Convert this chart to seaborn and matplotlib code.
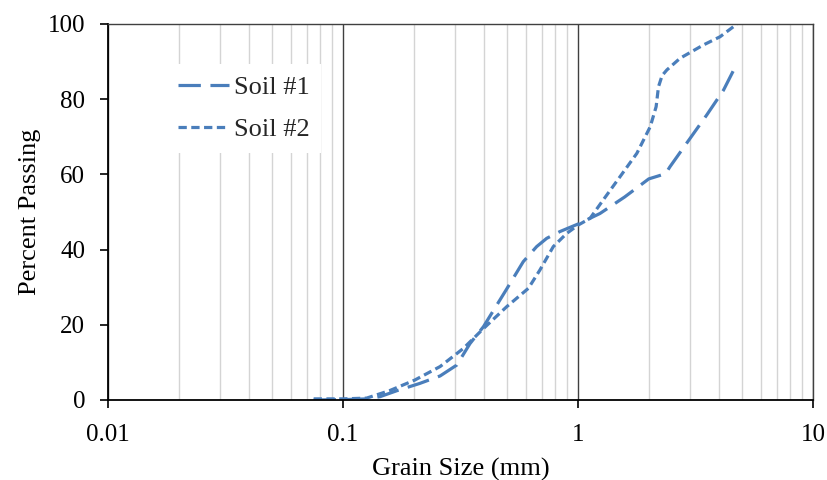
import matplotlib
matplotlib.use("Agg")
import matplotlib.pyplot as plt
import matplotlib.ticker as mticker
import numpy as np
import pandas as pd
import seaborn as sns

# ---- data ----
soil1_size = [0.075, 0.1, 0.126, 0.144, 0.17, 0.212, 0.259, 0.305, 0.347, 0.396,
              0.497, 0.585, 0.667, 0.736, 0.838, 1.0, 1.24, 1.58, 2.0, 2.2, 2.36,
              2.46, 2.9, 3.53, 4.16, 4.75]
soil1_pass = [0.0, 0.1, 0.3, 0.9, 2.5, 4.4, 6.4, 9.3, 15.0, 19.5,
              29.5, 36.8, 40.8, 43.0, 44.8, 46.8, 49.6, 54.0, 58.8, 59.6, 60.2,
              62.0, 68.3, 75.8, 82.4, 89.5]
soil2_size = [0.075, 0.1, 0.126, 0.158, 0.202, 0.259, 0.325, 0.396, 0.497, 0.615,
              0.689, 0.785, 0.895, 1.0, 1.125, 1.28, 1.51, 1.78, 2.03, 2.15, 2.2,
              2.28, 2.39, 2.72, 3.41, 4.02, 4.75]
soil2_pass = [0.3, 0.3, 0.5, 2.5, 5.3, 8.9, 13.7, 19.0, 24.8, 29.7,
              34.6, 40.8, 44.3, 46.5, 48.3, 53.2, 59.4, 65.6, 72.7, 78.0, 83.3,
              86.3, 87.8, 90.9, 94.4, 96.6, 100.0]
series_names = ["Soil #1", "Soil #2"]
x_ticks = [0.01, 0.1, 1, 10]
x_tick_labels = ["0.01", "0.1", "1", "10"]
y_ticks = [0, 20, 40, 60, 80, 100]

df = pd.concat([
    pd.DataFrame({"size": soil1_size, "pass": soil1_pass, "Soil": series_names[0]}),
    pd.DataFrame({"size": soil2_size, "pass": soil2_pass, "Soil": series_names[1]}),
], ignore_index=True)

sns.set_theme(style="white")
plt.rcParams["font.family"] = ["Liberation Serif", "DejaVu Serif"]

fig = plt.figure(figsize=(8.27, 4.80), dpi=100)
ax = fig.add_axes([108 / 827, 1 - 400 / 480, 705 / 827, 376 / 480])

blue = "#4A7EBB"
sns.lineplot(data=df, x="size", y="pass", hue="Soil", style="Soil",
             palette={series_names[0]: blue, series_names[1]: blue},
             dashes={series_names[0]: (7.0, 3.0), series_names[1]: (2.6, 1.4)},
             sort=False, estimator=None, linewidth=2.3, ax=ax, legend=True)

ax.set_xscale("log")
ax.set_xlim(0.01, 10)
ax.set_ylim(0, 100)

ax.xaxis.set_major_locator(mticker.FixedLocator(x_ticks))
ax.xaxis.set_major_formatter(mticker.FixedFormatter(x_tick_labels))
ax.xaxis.set_minor_locator(mticker.LogLocator(base=10, subs=np.arange(2, 10), numticks=20))
ax.xaxis.set_minor_formatter(mticker.NullFormatter())
ax.set_yticks(y_ticks)

ax.grid(False)
ax.grid(True, which="major", axis="x", color="#404040", linewidth=1.0, zorder=0)
ax.grid(True, which="minor", axis="x", color="#d4d4d4", linewidth=1.0, zorder=0)
ax.set_axisbelow(True)

for side in ["left", "bottom"]:
    ax.spines[side].set_color("black")
    ax.spines[side].set_linewidth(1.3)
for side in ["top", "right"]:
    ax.spines[side].set_color("#404040")
    ax.spines[side].set_linewidth(1.0)

ax.tick_params(axis="both", which="major", direction="out", length=6, width=1.2,
               color="black", labelsize=18, labelcolor="black",
               bottom=True, left=True)
ax.tick_params(axis="x", which="major", pad=11.5)
ax.tick_params(axis="y", which="major", pad=10.5)
ax.tick_params(axis="x", which="minor", bottom=False)

ax.set_xlabel("Grain Size (mm)", fontsize=19, color="black", labelpad=8)
ax.set_ylabel("Percent Passing", fontsize=19, color="black", labelpad=5)

handles, labels = ax.get_legend_handles_labels()
leg = ax.legend(handles, labels, loc="upper left", bbox_to_anchor=(0.064, 0.93),
                fontsize=19, frameon=True, facecolor="white", edgecolor="none",
                framealpha=1.0, fancybox=False, handlelength=1.93, handletextpad=0.17,
                labelspacing=0.72, borderpad=0.45)
for line in leg.get_lines():
    line.set_linewidth(2.3)

fig.savefig("out.png", dpi=100, facecolor="white")
